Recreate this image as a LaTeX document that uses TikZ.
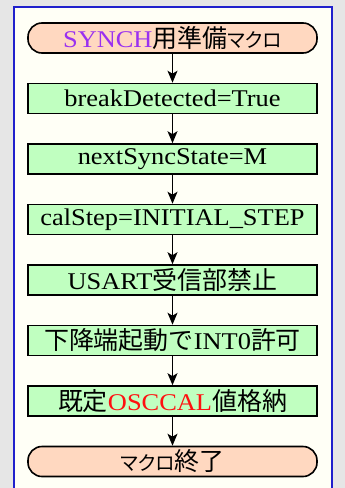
\documentclass[tikz,border=0pt]{standalone}
\usepackage{fontspec}
\setmainfont{Liberation Serif}[FakeStretch=1.1]
\newfontfamily\jp{Noto Sans CJK JP}[Scale=1.04]
\newfontfamily\jpkana{Noto Sans CJK JP}[Scale=0.82,RawFeature=+palt]
\usepackage{tikz}
\usetikzlibrary{arrows.meta,positioning}

\definecolor{bggray}{HTML}{E6E6E6}
\definecolor{framecream}{HTML}{FFFFF6}
\definecolor{frameblue}{HTML}{2020CC}
\definecolor{boxgreen}{HTML}{C0FFC0}
\definecolor{termpeach}{HTML}{FFD8C0}
\definecolor{synchviolet}{HTML}{9A30F0}
\definecolor{osccalred}{HTML}{FF1010}

\begin{document}
\begin{tikzpicture}[x=1pt,y=1pt,node distance=28.9pt]
			\tikzstyle{every node}=[font=\fontsize{24}{24}\selectfont]
			\tikzstyle{proc}=[draw, line width=1.6pt, fill=boxgreen, minimum width=289pt, minimum height=30pt, inner sep=0pt]
			\tikzstyle{term}=[proc, fill=termpeach, rounded corners=14pt]
			\tikzstyle{flow}=[-{Stealth[length=12pt,width=10pt,inset=3pt]}, line width=1.2pt]
			
			%Hintergrund und Rahmen
			\useasboundingbox (0,0) rectangle (345,-488);
			\fill[bggray] (0,0) rectangle (345,-488);
			\draw[frameblue, line width=2pt, fill=framecream] (14,-495) -- (14,-7) -- (332,-7) -- (332,-495);
			
			%Ablauf
			\node[term] (start) at (172.5,-38) {\textcolor{synchviolet}{SYNCH}{\jp 用準備}{\jpkana マクロ}};
			\node[proc, below=of start] (brk) {breakDetected=True};
			\node[proc, below=of brk] (sync) {nextSyncState=M};
			\node[proc, below=of sync] (cal) {calStep=INITIAL\_STEP};
			\node[proc, below=of cal] (usart) {USART{\jp 受信部禁止}};
			\node[proc, below=of usart] (int) {{\jp 下降端起動で}INT0{\jp 許可}};
			\node[proc, below=of int] (osc) {{\jp 既定}\textcolor{osccalred}{OSCCAL}{\jp 値格納}};
			\node[term, below=of osc] (stop) {{\jpkana マクロ}{\jp 終了}};
			
			%Pfeile
			\draw[flow] (start) -- (brk);
			\draw[flow] (brk) -- (sync);
			\draw[flow] (sync) -- (cal);
			\draw[flow] (cal) -- (usart);
			\draw[flow] (usart) -- (int);
			\draw[flow] (int) -- (osc);
			\draw[flow] (osc) -- (stop);
\end{tikzpicture}
\end{document}
